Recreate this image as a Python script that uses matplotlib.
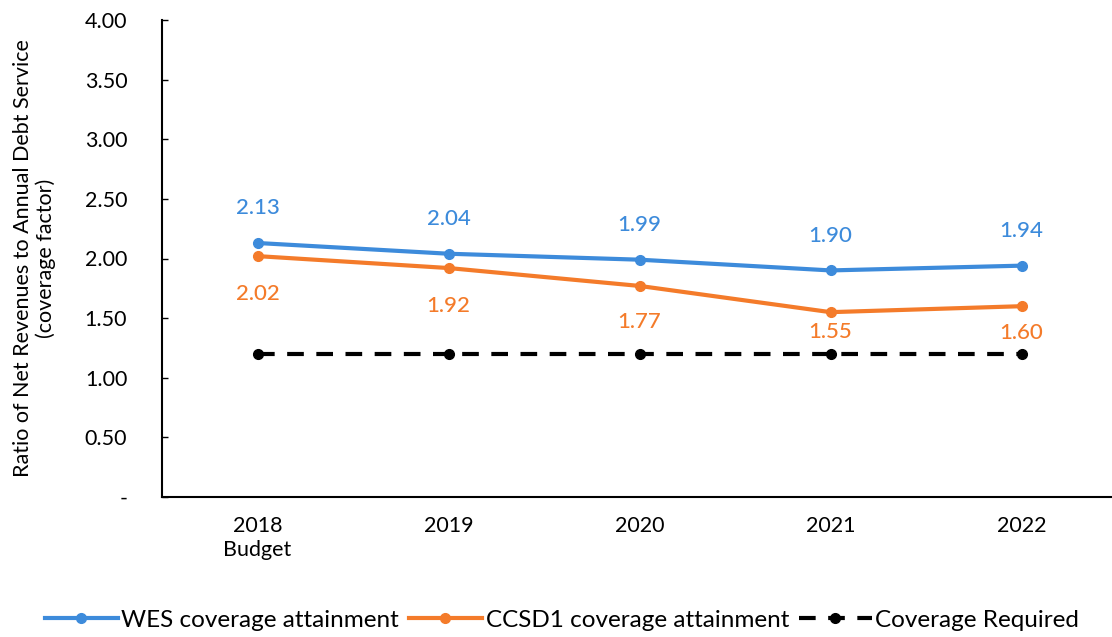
import matplotlib
matplotlib.use("Agg")
import matplotlib.pyplot as plt
from matplotlib.ticker import FixedLocator

plt.rcParams['font.family'] = ['Lato', 'DejaVu Sans']

categories = ["2018\nBudget", "2019", "2020", "2021", "2022"]
wes = [2.13, 2.04, 1.99, 1.90, 1.94]
ccsd1 = [2.02, 1.92, 1.77, 1.55, 1.60]
required = [1.20, 1.20, 1.20, 1.20, 1.20]
yticks = [0.0, 0.5, 1.0, 1.5, 2.0, 2.5, 3.0, 3.5, 4.0]
ytick_labels = ["-", "0.50", "1.00", "1.50", "2.00", "2.50", "3.00", "3.50", "4.00"]

blue = "#3D8BDB"
orange = "#F47B2A"

W, H = 1112, 637
fig = plt.figure(figsize=(W / 100, H / 100), dpi=100)
ax = fig.add_axes([162 / W, 1 - 497 / H, (W - 162) / W, (497 - 20) / H])

x = list(range(len(categories)))
ax.plot(x, wes, color=blue, lw=3, marker="o", ms=7, label="WES coverage attainment", zorder=3)
ax.plot(x, ccsd1, color=orange, lw=3, marker="o", ms=7, label="CCSD1 coverage attainment", zorder=3)
ax.plot(x, required, color="black", lw=3, ls=(0, (4, 3)), marker="o", ms=7,
        label="Coverage Required", zorder=2)

# label offsets (points) chosen to keep the text clear of the dashed line
ccsd1_offsets = [-27, -27, -26, -14, -19]
for xi, v in zip(x, wes):
    ax.annotate(f"{v:.2f}", (xi, v), xytext=(0, 25), textcoords="offset points",
                ha="center", va="center", color=blue, fontsize=16, fontweight="medium")
for xi, v, off in zip(x, ccsd1, ccsd1_offsets):
    ax.annotate(f"{v:.2f}", (xi, v), xytext=(0, off), textcoords="offset points",
                ha="center", va="center", color=orange, fontsize=16, fontweight="medium")

ax.set_xlim(-0.5, -0.5 + (W - 162) / 191.0)
ax.set_ylim(0, 4.0)
ax.yaxis.set_major_locator(FixedLocator(yticks))
ax.set_yticklabels(ytick_labels, fontsize=15.5)
ax.set_xticks(x)
ax.set_xticklabels(categories, fontsize=15.5, linespacing=1.25)
ax.tick_params(axis="y", direction="in", length=4, width=1, pad=25)
ax.tick_params(axis="x", length=0, pad=14)

for s in ["top", "right"]:
    ax.spines[s].set_visible(False)
ax.spines["left"].set_linewidth(1.5)
ax.spines["bottom"].set_linewidth(1.5)

ax.set_ylabel("Ratio of Net Revenues to Annual Debt Service\n(coverage factor)",
              fontsize=15.5, linespacing=1.1)
ax.yaxis.set_label_coords(-0.112, 0.5)

fig.legend(loc="center", bbox_to_anchor=(562 / W, 1 - 620 / H), ncol=3, frameon=False,
           fontsize=17.5, handlelength=3.0, handletextpad=0.15, columnspacing=0.4)

fig.savefig("out.png", dpi=100)
